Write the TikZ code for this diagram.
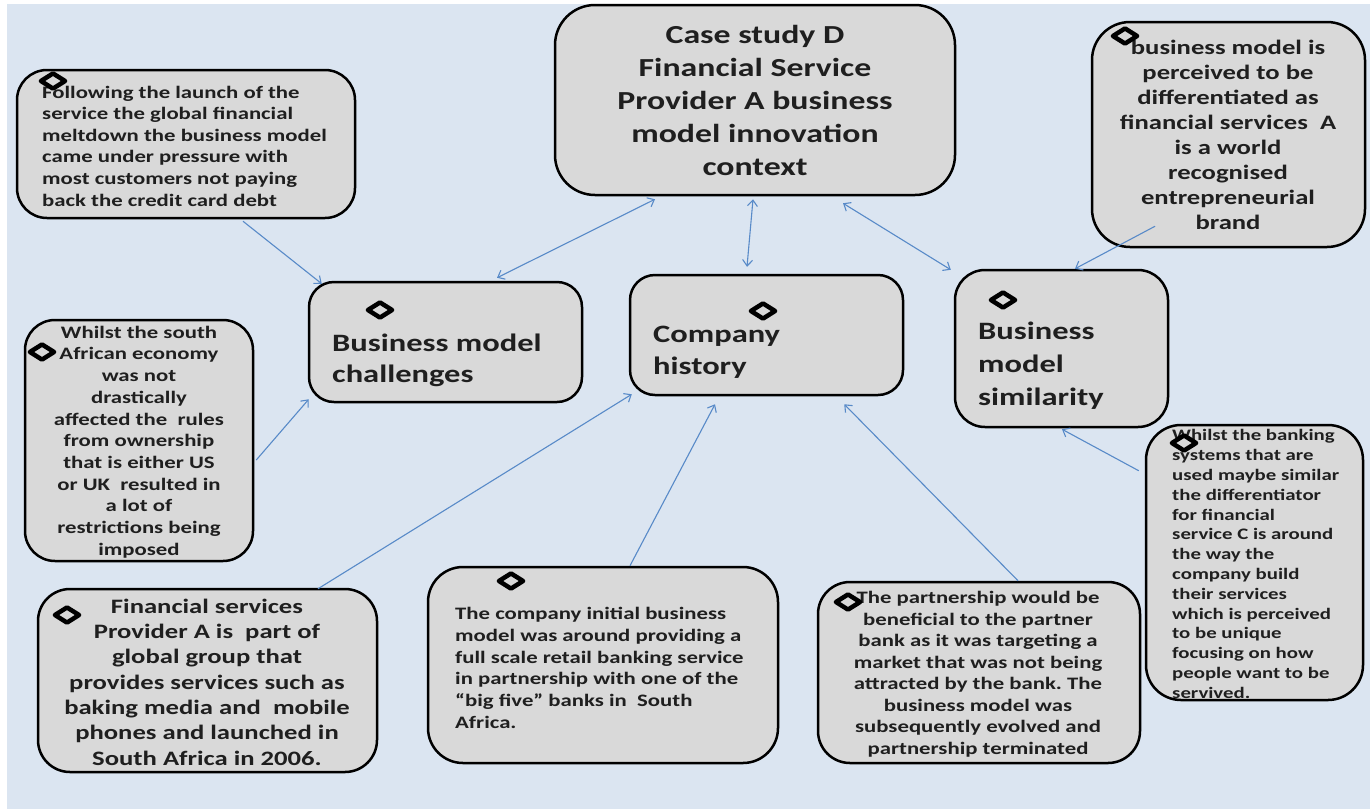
\documentclass[tikz,border=0pt]{standalone}
\usepackage{fontspec}
\setmainfont{Carlito}[FakeStretch=1.3]
\usetikzlibrary{arrows.meta,calc,shapes.geometric}
\definecolor{pagebg}{HTML}{DBE5F1}
\definecolor{boxfill}{HTML}{D9D9D9}
\definecolor{linkblue}{RGB}{88,138,200}
\newcommand\fs[2]{\fontsize{#1}{#2}\selectfont\bfseries}
\frenchspacing
\begin{document}
\begin{tikzpicture}[x=1pt,y=-1pt,
  box/.style={draw=black, line width=2.5pt, fill=boxfill, rectangle, inner sep=0pt},
  bul/.style={draw=black, line width=4.5pt, line join=round, fill=boxfill, diamond,
              minimum width=26pt, minimum height=17pt, inner sep=0pt},
  txt/.style={inner sep=0pt, text=black!88},
  tip/.tip={Straight Barb[length=6pt,width=10pt,line width=1.1pt]},
  link/.style={draw=linkblue, line width=1.1pt, -tip},
  dlink/.style={draw=linkblue, line width=1.1pt, tip-tip},
]
\useasboundingbox (0,0) rectangle (1370,809);
\fill[white] (0,0) rectangle (1370,809);
\fill[pagebg] (7,4) rectangle (1370,809);

% boxes
\node[box, rounded corners=40pt, minimum width=400pt, minimum height=190pt] (ctx)  at (755,100) {};
\node[box, rounded corners=30pt, minimum width=338pt, minimum height=148pt] (tl)   at (186,144) {};
\node[box, rounded corners=38pt, minimum width=273pt, minimum height=225pt] (tr)   at (1228.5,134.5) {};
\node[box, rounded corners=25pt, minimum width=273pt, minimum height=120pt] (ch)   at (445.5,342) {};
\node[box, rounded corners=25pt, minimum width=273pt, minimum height=120pt] (hist) at (766.5,335) {};
\node[box, rounded corners=30pt, minimum width=213pt, minimum height=157pt] (sim)  at (1061.5,348.5) {};
\node[box, rounded corners=30pt, minimum width=228pt, minimum height=241pt] (lm)   at (139,440.5) {};
\node[box, rounded corners=35pt, minimum width=217pt, minimum height=275pt] (rb)   at (1254.5,562.5) {};
\node[box, rounded corners=32pt, minimum width=339pt, minimum height=183pt] (bl)   at (207.5,680.5) {};
\node[box, rounded corners=35pt, minimum width=350pt, minimum height=196pt] (bm)   at (603,665) {};
\node[box, rounded corners=32pt, minimum width=322pt, minimum height=181pt] (br)   at (979,672.5) {};

% texts
\node[txt, align=center, font=\fs{26}{33}] (ctxt) at (755,100)
  {Case study D\\Financial Service\\Provider A business\\model innovation\\context};
\node[txt, align=left, anchor=west, font=\fs{17.5}{21.6}] (tlt) at (42,146)
  {Following the launch of the\\service the global financial\\meltdown the business model\\came under pressure with\\most customers not paying\\back the credit card debt};
\node[txt, align=center, font=\fs{20.5}{25}] (trt) at (1228,135)
  {business model is\\perceived to be\\differentiated as\\financial services~ A\\is a world\\recognised\\entrepreneurial\\brand};
\node[txt, align=left, anchor=west, font=\fs{25}{31}] (cht) at (332,360)
  {Business model\\challenges};
\node[txt, align=left, anchor=west, font=\fs{25}{32}] (histt) at (653,352)
  {Company\\history};
\node[txt, align=left, anchor=west, font=\fs{25}{33}] (simt) at (978,366)
  {Business\\model\\similarity};
\node[txt, align=center, font=\fs{17.5}{21.7}] (lmt) at (139,442)
  {Whilst the south\\African economy\\was not\\drastically\\affected the~ rules\\from ownership\\that is either US\\or UK~ resulted in\\a lot of\\restrictions being\\imposed};
\node[txt, align=left, anchor=west, font=\fs{16}{19.8}] (rbt) at (1172,564)
  {Whilst the banking\\systems that are\\used maybe similar\\the differentiator\\for financial\\service C is around\\the way the\\company build\\their services\\which is perceived\\to be unique\\focusing on how\\people want to be\\servived.};
\node[txt, align=center, font=\fs{20.5}{25.3}] (blt) at (207,682)
  {Financial services\\Provider A is~ part of\\global group that\\provides services such as\\baking media and~ mobile\\phones and launched in\\South Africa in 2006.};
\node[txt, align=left, anchor=west, font=\fs{17.5}{21.7}] (bmt) at (455,668)
  {The company initial business\\model was around providing a\\full scale retail banking service\\in partnership with one of the\\“big five” banks in~ South\\Africa.};
\node[txt, align=center, font=\fs{17.5}{21.5}] (brt) at (978,674)
  {The partnership would be\\beneficial to the partner\\bank as it was targeting a\\market that was not being\\attracted by the bank. The\\business model was\\subsequently evolved and\\partnership terminated};

% bullets
\node[bul] (b1) at (53,81) {};
\node[bul] (b2) at (1125,36) {};
\node[bul] (b3) at (380,310) {};
\node[bul] (b4) at (763,311) {};
\node[bul] (b5) at (1003,300) {};
\node[bul] (b6) at (42,352) {};
\node[bul] (b7) at (1184,443) {};
\node[bul] (b8) at (67,615) {};
\node[bul] (b9) at (511,581) {};
\node[bul] (b10) at (848,602) {};

% connectors
\draw[dlink] ($(ctx.south)+(-100,3)$) -- ($(ch.north)+(51.5,-3)$);
\draw[dlink] ($(ctx.south)+(-2,3)$) -- ($(hist.north)+(-19.5,-7)$);
\draw[dlink] ($(ctx.south)+(88,7)$) -- ($(sim.north west)+(-3,1)$);
\draw[link] ($(tl.south)+(57,2)$) -- ($(ch.north west)+(14,3)$);
\draw[link] ($(tr.south)+(-73.5,-22)$) -- ($(sim.north)+(13.5,0)$);
\draw[link] ($(lm.east)+(2,19.5)$) -- ($(ch.south west)+(1,-4)$);
\draw[link] ($(bl.north)+(110.5,1)$) -- ($(hist.south west)+(3,-2)$);
\draw[link] ($(bm.north)+(27,0)$) -- ($(hist.south)+(-51.5,8)$);
\draw[link] ($(br.north)+(39,0)$) -- ($(hist.south east)+(-60,8)$);
\draw[link] ($(rb.north west)+(-6,47)$) -- ($(sim.south)+(0.5,1)$);
\end{tikzpicture}
\end{document}
